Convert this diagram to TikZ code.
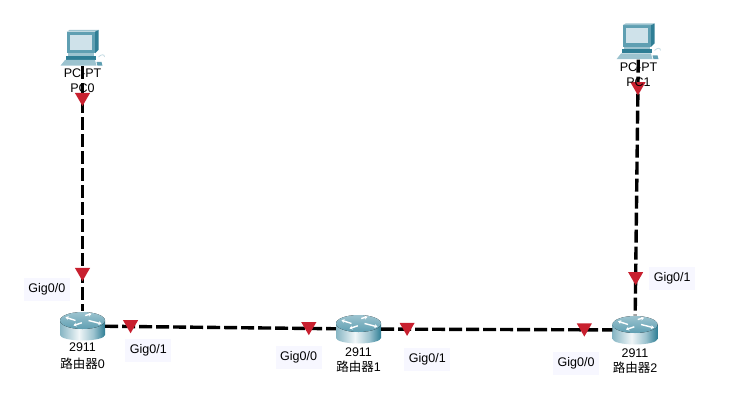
\documentclass[tikz,border=0pt]{standalone}
\usepackage{fontspec}
\setmainfont{Liberation Sans}
\newfontfamily\cjkfont{Noto Sans CJK SC}
\usepackage{xcolor}
\usetikzlibrary{positioning,arrows.meta,shapes.geometric,calc}
\definecolor{tealdark}{HTML}{2F7E95}
\definecolor{tealmid}{HTML}{5F9FB2}
\definecolor{teallight}{HTML}{9CC3CF}
\definecolor{screenblue}{HTML}{CFE2EA}
\definecolor{portred}{HTML}{C8202F}
\definecolor{portbg}{HTML}{F7F7FF}
\pgfdeclarehorizontalshading{routerbody}{100bp}{
  color(0bp)=(teallight!80!tealdark);
  color(25bp)=(teallight!80!tealdark);
  color(46bp)=(white!85!teallight);
  color(62bp)=(teallight);
  color(75bp)=(tealdark);
  color(100bp)=(tealdark)}
\newcommand{\pcicon}{%
  \fill[tealmid] (-15.8,-16.3) rectangle (12.5,5.3);
  \fill[teallight] (-15.8,-16.3) -- (-13,-18) -- (16,-18) -- (12.5,-16.3) -- cycle;
  \fill[tealdark] (12.5,-16.3) -- (16,-18) -- (16,2) -- (12.5,5.3) -- cycle;
  \fill[screenblue] (-12.5,-13) rectangle (9.2,2);
  \fill[teallight] (-15,5.3) rectangle (11,8);
  \fill[tealdark] (-16.5,8) rectangle (13,12);
  \fill[teallight] (-17.5,12) -- (12.5,12) -- (14,17.7) -- (-22,17.7) -- cycle;
  \fill[tealmid] (14,14) -- (19,14) -- (20,17.7) -- (15,17.7) -- cycle;
  \draw[teallight!60,line width=.8pt] (16,9) .. controls (19,6) and (22,6) .. (22,9);
}
\newcommand{\routericon}{%
  \shade[shading=routerbody]
    (-22.5,-5.5) -- (-22.5,9) arc[start angle=180,end angle=0,x radius=22.5,y radius=5.5]
    -- (22.5,-5.5) -- cycle;
  \fill[top color=teallight,bottom color=tealmid] (0,-5.5) ellipse[x radius=22.5,y radius=8.5];
  \draw[white,line width=1.4pt,-{Stealth[length=3pt,width=4pt]}] (-7,-5.5) -- (-17,-8.8);
  \draw[white,line width=1.4pt,-{Stealth[length=3pt,width=4pt]}] (2.7,-10.5) -- (9,-12.2);
  \draw[white,line width=1.4pt,-{Stealth[length=3pt,width=4pt]}] (6,-5.5) -- (19,-2.2);
  \draw[white,line width=1.4pt,-{Stealth[length=3pt,width=4pt]}] (-.7,-3.2) -- (-9,-.5);
}

\begin{document}
\begin{tikzpicture}[
    x=1pt,y=-1pt,
    font=\fontsize{12.5pt}{14pt}\selectfont,
    pc/.style={minimum width=45pt,minimum height=36pt,inner sep=0pt,
      path picture={\begin{scope}[shift={(path picture bounding box.center)}]\pcicon\end{scope}}},
    router/.style={minimum width=45pt,minimum height=29pt,inner sep=0pt,
      path picture={\begin{scope}[shift={(path picture bounding box.center)}]\routericon\end{scope}}},
    devlabel/.style={inner sep=0pt,text height=10pt,text depth=3pt},
    port/.style={fill=portbg,minimum width=46pt,minimum height=23pt,inner sep=0pt},
    link/.style={black,line width=3.4pt,dash pattern=on 13pt off 4pt},
    tri/.style={regular polygon,regular polygon sides=3,shape border rotate=180,
      fill=portred,minimum size=17.5pt,inner sep=0pt},
    ]
    \useasboundingbox (0,0) rectangle (747,414);
    \node[pc] (pc0) at (82.5,48) {};
    \node[pc] (pc1) at (638.5,41.5) {};
    \node[router] (r0) at (82.5,326) {};
    \node[router] (r1) at (358.5,329) {};
    \node[router] (r2) at (635,330) {};

    \draw[link] (pc0) -- node[tri,pos=.127] (t0) {} node[tri,pos=.841] (t1) {} (r0);
    \draw[link] (pc1) -- node[tri,pos=.105] (t2) {} node[tri,pos=.848] (t3) {} (r2);
    \draw[link] (r0) -- node[tri,pos=.11,yshift=2pt] (t4) {} node[tri,pos=.883,yshift=2pt] (t5) {} (r1);
    \draw[link] (r1) -- node[tri,pos=.112,yshift=2pt] (t6) {} node[tri,pos=.879,yshift=2pt] (t7) {} (r2);

    \node[devlabel,below=1.5pt of pc0] (pc0type) {PC-PT};
    \node[devlabel,below=1pt of pc0type] (pc0name) {PC0};
    \node[devlabel,below=1.5pt of pc1] (pc1type) {PC-PT};
    \node[devlabel,below=2pt of pc1type] (pc1name) {PC1};

    \node[devlabel,below=1pt of r0] (r0type) {2911};
    \node[devlabel,below=3pt of r0type] (r0name) {{\cjkfont 路由器}0};
    \node[devlabel,below=2.5pt of r1] (r1type) {2911};
    \node[devlabel,below=2pt of r1type] (r1name) {{\cjkfont 路由器}1};
    \node[devlabel,below=2.5pt of r2] (r2type) {2911};
    \node[devlabel,below=2pt of r2type] (r2name) {{\cjkfont 路由器}2};

    \node[port,above left=10.5pt and 12.5pt of r0.north] (p00) {Gig0/0};
    \node[port,below right=13pt and 20pt of r0.east] (p01) {Gig0/1};
    \node[port,below left=17pt and 14pt of r1.west] (p10) {Gig0/0};
    \node[port,below right=19pt and 23pt of r1.east] (p11) {Gig0/1};
    \node[port,below left=22pt and 13pt of r2.west] (p20) {Gig0/0};
    \node[port,above right=25pt and 14pt of r2.north] (p21) {Gig0/1};
\end{tikzpicture}
\end{document}
